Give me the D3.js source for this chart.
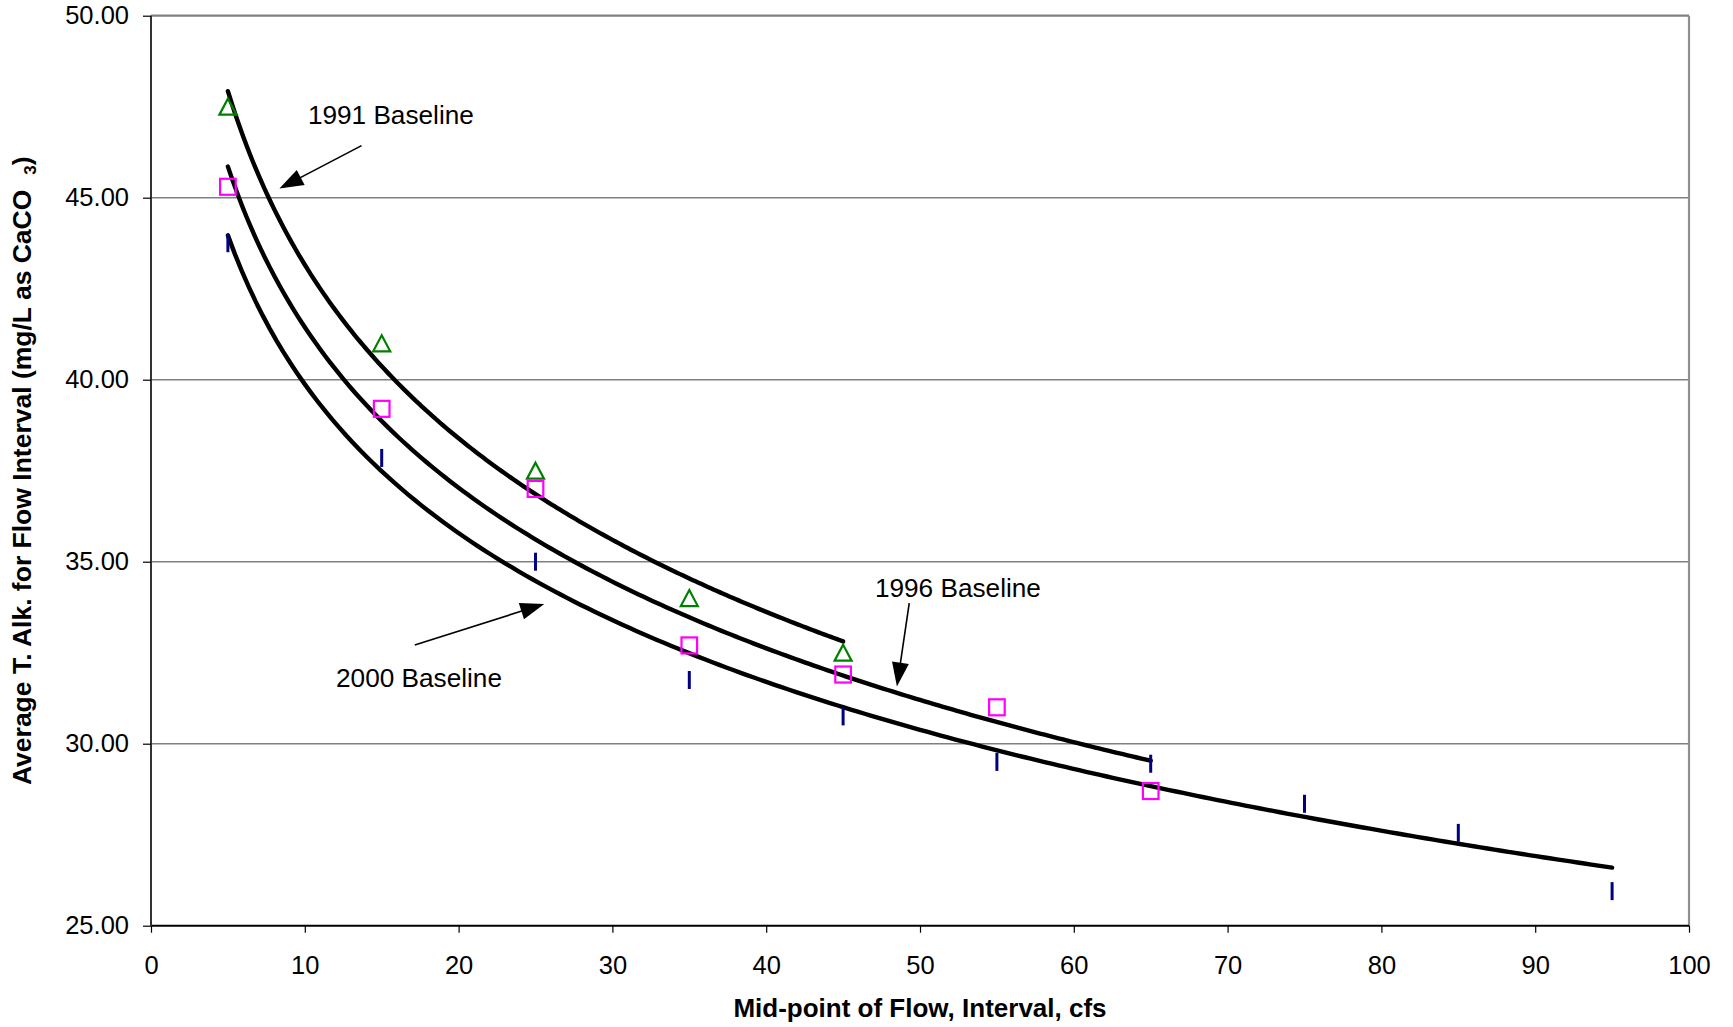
<!DOCTYPE html>
<html>
<head>
<meta charset="utf-8">
<script src="https://cdn.jsdelivr.net/npm/d3@7"></script>
<style>
  body { margin: 0; background: #fff; }
  svg { display: block; }
  text { font-family: "Liberation Sans", Arial, sans-serif; fill: #000; }
</style>
</head>
<body>
<svg id="chart" width="1733" height="1027"></svg>
<script>
// ---- data ----
const flows = [5, 15, 25, 35, 45, 55, 65, 75, 85, 95];
const alk1991 = [47.5, 41.0, 37.5, 34.0, 32.5];
const alk1996 = [45.3, 39.2, 37.0, 32.7, 31.9, 31.0, 28.7];
const alk2000 = [43.75, 37.85, 35.0, 31.75, 30.75, 29.5, 29.45, 28.35, 27.55, 25.95];
const xTicks = [0, 10, 20, 30, 40, 50, 60, 70, 80, 90, 100];
const yTicks = [25, 30, 35, 40, 45, 50];
const labels = ["1991 Baseline", "1996 Baseline", "2000 Baseline"];
// annotation anchors in data units (flow, alkalinity)
const labelAnchors = [[10.2, 47.02], [47.07, 34.04], [12.03, 31.57]];
const arrowTails = [[13.69, 46.43], [49.3, 33.86], [17.15, 32.71]];
const arrowTips = [[8.35, 45.25], [48.5, 31.57], [25.57, 33.84]];

const svg = d3.select("#chart");
const FONT = '"Liberation Sans", Arial, sans-serif';

const x = d3.scaleLinear().domain([0, 100]).range([151, 1689]);
const y = d3.scaleLinear().domain([25, 50]).range([925.7, 15.7]);

// gridlines
svg.append("g").selectAll("line").data(yTicks.filter(t => t > 25)).join("line")
  .attr("x1", x(0)).attr("x2", x(100))
  .attr("y1", d => y(d)).attr("y2", d => y(d))
  .attr("stroke", "#808080").attr("stroke-width", d => d === 50 ? 2.2 : 1.6);
// right border
svg.append("line").attr("x1", x(100)).attr("x2", x(100)).attr("y1", y(50)).attr("y2", y(25))
  .attr("stroke", "#909090").attr("stroke-width", 2.2);

// axes
const xAxis = d3.axisBottom(x).tickValues(xTicks).tickFormat(d3.format("d")).tickSize(7).tickPadding(23);
const gx = svg.append("g").attr("transform", `translate(0,${y(25)})`).call(xAxis);
gx.select(".domain").attr("stroke", "#000").attr("stroke-width", 2).attr("d", `M${x(0)},0H${x(100)}`);
gx.selectAll(".tick line").attr("stroke", "#000").attr("stroke-width", 1.2);
gx.selectAll("text").style("font-family", FONT).style("font-size", "25.5px").attr("fill", "#000");

const yAxis = d3.axisLeft(y).tickValues(yTicks).tickFormat(d3.format(".2f")).tickSize(8).tickPadding(14);
const gy = svg.append("g").attr("transform", `translate(${x(0)},0)`).call(yAxis);
gy.select(".domain").attr("stroke", "#333").attr("stroke-width", 2).attr("d", `M0,${y(50)}V${y(25)}`);
gy.selectAll(".tick line").attr("stroke", "#000").attr("stroke-width", 1.2);
gy.selectAll("text").style("font-family", FONT).style("font-size", "25.5px").attr("fill", "#000");

// logarithmic trendlines (least squares on ln(flow), as Excel's log trendline)
function logFit(xs, ys) {
  const lx = xs.map(Math.log);
  const mx = d3.mean(lx), my = d3.mean(ys);
  let sxy = 0, sxx = 0;
  lx.forEach((v, i) => { sxy += (v - mx) * (ys[i] - my); sxx += (v - mx) * (v - mx); });
  const b = sxy / sxx, a = my - b * mx;
  return t => a + b * Math.log(t);
}
const series = [alk1991, alk1996, alk2000];
const line = d3.line().x(d => x(d[0])).y(d => y(d[1]));
series.forEach(vals => {
  const xs = flows.slice(0, vals.length);
  const f = logFit(xs, vals);
  const x0 = xs[0], x1 = xs[xs.length - 1];
  const pts = d3.range(0, 201).map(i => { const t = x0 + (x1 - x0) * i / 200; return [t, f(t)]; });
  svg.append("path").attr("d", line(pts)).attr("fill", "none")
    .attr("stroke", "#000").attr("stroke-width", 4.4).attr("stroke-linecap", "round");
});

// markers
const g91 = svg.append("g");
g91.selectAll("path").data(alk1991).join("path")
  .attr("d", (d, i) => {
    const cx = x(flows[i]), cy = y(d), h = 8;
    return `M${cx},${cy - h}L${cx + 8.5},${cy + h}L${cx - 8.5},${cy + h}Z`;
  })
  .attr("fill", "none").attr("stroke", "#008000").attr("stroke-width", 2.2);

svg.append("g").selectAll("rect").data(alk1996).join("rect")
  .attr("x", (d, i) => x(flows[i]) - 7.8).attr("y", d => y(d) - 8)
  .attr("width", 15.6).attr("height", 16)
  .attr("fill", "none").attr("stroke", "#FF00FF").attr("stroke-width", 2.2);

svg.append("g").selectAll("line").data(alk2000).join("line")
  .attr("x1", (d, i) => x(flows[i])).attr("x2", (d, i) => x(flows[i]))
  .attr("y1", d => y(d) - 9).attr("y2", d => y(d) + 9)
  .attr("stroke", "#000080").attr("stroke-width", 3);

// annotations
labels.forEach((txt, i) => {
  svg.append("text").attr("x", x(labelAnchors[i][0])).attr("y", y(labelAnchors[i][1]))
    .style("font-size", "26.2px").text(txt);
  const tx = x(arrowTails[i][0]), ty = y(arrowTails[i][1]);
  const px = x(arrowTips[i][0]), py = y(arrowTips[i][1]);
  const dx = px - tx, dy = py - ty, L = Math.hypot(dx, dy);
  const ux = dx / L, uy = dy / L;
  const headL = 24, headW = 8.5;
  const bx = px - ux * headL, by = py - uy * headL;
  svg.append("line").attr("x1", tx).attr("y1", ty).attr("x2", bx + ux * 2).attr("y2", by + uy * 2)
    .attr("stroke", "#000").attr("stroke-width", 1.6);
  svg.append("path")
    .attr("d", `M${px},${py}L${bx - uy * headW},${by + ux * headW}L${bx + uy * headW},${by - ux * headW}Z`)
    .attr("fill", "#000");
});

// axis titles
svg.append("text").attr("x", (x(0) + x(100)) / 2).attr("y", 1017)
  .attr("text-anchor", "middle").style("font-size", "26px").style("font-weight", "bold")
  .text("Mid-point of Flow, Interval, cfs");

const yt = svg.append("text")
  .attr("transform", `translate(31,${(y(25) + y(50)) / 2}) rotate(-90)`)
  .attr("text-anchor", "middle").style("font-size", "26.5px").style("font-weight", "bold");
yt.append("tspan").text("Average T. Alk. for Flow Interval (mg/L as CaCO");
yt.append("tspan").attr("dx", 15).attr("dy", 5).style("font-size", "17px").text("3");
yt.append("tspan").attr("dy", -5).text(")");
</script>
</body>
</html>
